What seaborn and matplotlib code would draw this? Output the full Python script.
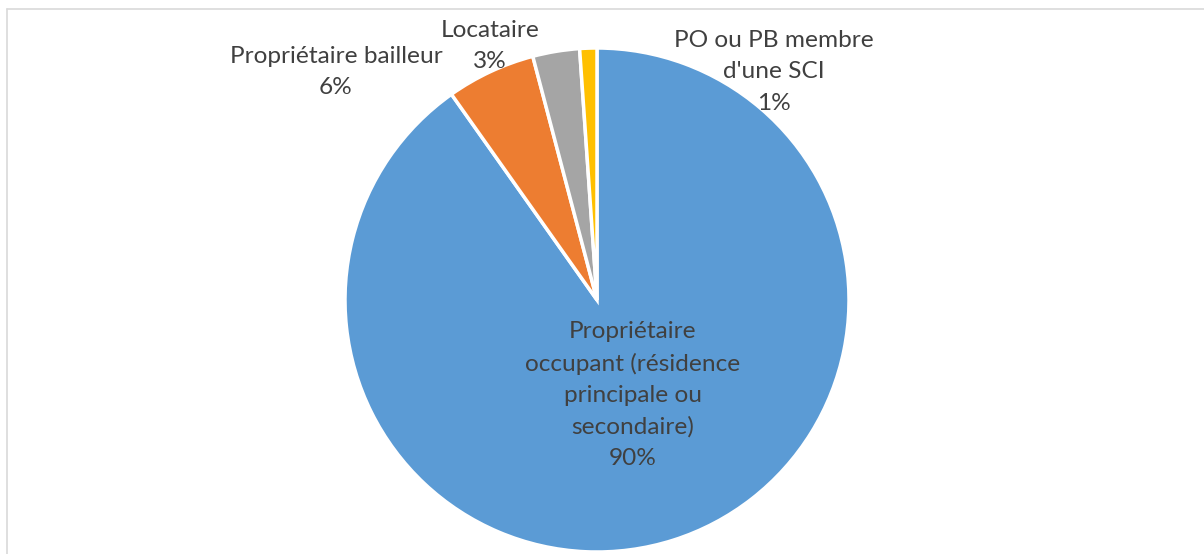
import matplotlib
matplotlib.use("Agg")
import matplotlib.pyplot as plt
import seaborn as sns
from matplotlib.lines import Line2D

sns.set_theme(style="white")
plt.rcParams['font.family'] = ['Lato', 'DejaVu Sans']

categories = [
    "Propriétaire\noccupant (résidence\nprincipale ou\nsecondaire)",
    "Propriétaire bailleur",
    "Locataire",
    "PO ou PB membre\nd'une SCI",
]
values = [90.2, 5.7, 3.0, 1.1]
pct_labels = ["90%", "6%", "3%", "1%"]
colors = ["#5B9BD5", "#ED7D31", "#A5A5A5", "#FFC000"]
label_pos = [(0.143, -0.377), (-1.036, 0.905), (-0.425, 1.008), (0.702, 0.905)]

W, H = 1204, 554
fig = plt.figure(figsize=(W / 100, H / 100), dpi=100)
fig.patch.set_facecolor("white")

cx, cy, r = 597, 300, 252
ax = fig.add_axes([(cx - r) / W, (H - cy - r) / H, 2 * r / W, 2 * r / H])
ax.pie(values, colors=colors, startangle=90, counterclock=False,
       wedgeprops=dict(edgecolor="white", linewidth=2.5), radius=1.0)
ax.set_xlim(-1, 1)
ax.set_ylim(-1, 1)
ax.set_aspect("equal")
ax.axis("off")

for cat, pct, (x, y) in zip(categories, pct_labels, label_pos):
    ax.text(x, y, f"{cat}\n{pct}", ha="center", va="center", fontsize=17.6,
            color="#404040", linespacing=1.6, clip_on=False)

# chart frame (top and left edges visible)
fig.add_artist(Line2D([7 / W, 1], [1 - 8.5 / H, 1 - 8.5 / H], color="#D9D9D9", lw=1.2,
                      transform=fig.transFigure))
fig.add_artist(Line2D([7 / W, 7 / W], [0, 1 - 8.5 / H], color="#D9D9D9", lw=1.2,
                      transform=fig.transFigure))

fig.savefig("out.png", dpi=100, facecolor="white")
